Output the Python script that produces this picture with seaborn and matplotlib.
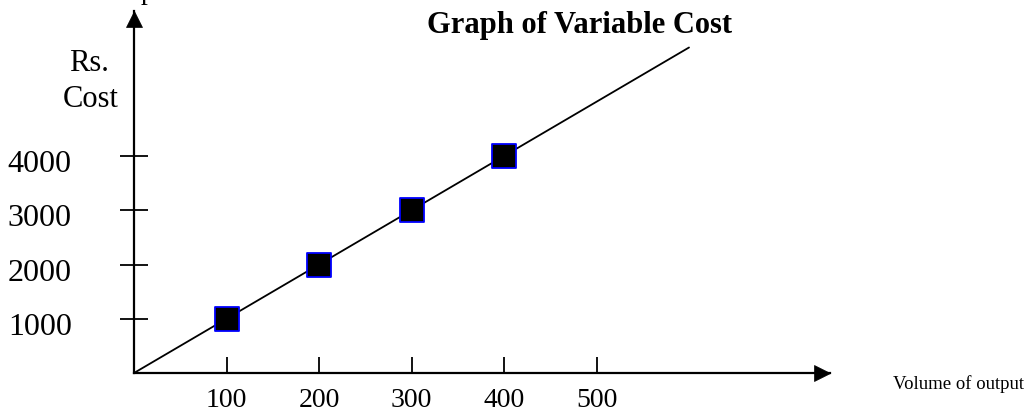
import matplotlib
matplotlib.use("Agg")
import matplotlib.pyplot as plt
import seaborn as sns
from matplotlib.transforms import ScaledTranslation

# ---- data ----
volume = [100, 200, 300, 400]
cost = [1000, 2000, 3000, 4000]
line_volume = [0, 600]
line_cost = [0, 6000]
x_ticks = [100, 200, 300, 400, 500]
x_tick_labels = ["100", "200", "300", "400", "500"]
y_ticks = [1000, 2000, 3000, 4000]
y_tick_labels = ["1000", "2000", "3000", "4000"]
title_text = "Graph of Variable Cost"
x_label_text = "Volume of output"
y_label_lines = ["Rs.", "Cost"]

sns.set_style("white")
plt.rcParams["font.family"] = ["Liberation Serif", "DejaVu Serif"]

W, H = 1028, 419
fig = plt.figure(figsize=(W / 100, H / 100), dpi=100)

# axes frame in pixels
x0, x1 = 134, 830
y_top, y_bot = 11, 373
ax = fig.add_axes([x0 / W, 1 - y_bot / H, (x1 - x0) / W, (y_bot - y_top) / H])
ax.set_facecolor("none")
px_per_x = 0.925
px_per_y = 0.05425
ax.set_xlim(0, (x1 - x0) / px_per_x)
ax.set_ylim(0, (y_bot - y_top) / px_per_y)

sns.lineplot(x=line_volume, y=line_cost, color="black", linewidth=1.3, ax=ax)
sns.scatterplot(x=volume, y=cost, marker="s", s=310, color="black",
                edgecolor="#0000ff", linewidth=1.3, ax=ax, zorder=3)

for s in ["top", "right"]:
    ax.spines[s].set_visible(False)
for s in ["left", "bottom"]:
    ax.spines[s].set_color("black")
    ax.spines[s].set_linewidth(1.6)

# arrow heads
ms = 11
ax.plot([1], [0], marker=">", color="black", ms=ms, mew=0.5, clip_on=False,
        transform=ax.transAxes + ScaledTranslation(-ms / 2 / 72, 0, fig.dpi_scale_trans))
ax.plot([0], [1], marker="^", color="black", ms=ms, mew=0.5, clip_on=False,
        transform=ax.transAxes + ScaledTranslation(0, -ms / 2 / 72, fig.dpi_scale_trans))

ax.set_xticks(x_ticks)
ax.set_xticklabels(x_tick_labels)
ax.set_yticks(y_ticks)
ax.set_yticklabels(y_tick_labels)
ax.tick_params(axis="x", bottom=True, direction="in", length=11.5, width=1.3,
               pad=11, labelsize=20, color="black", labelcolor="black")
ax.tick_params(axis="y", left=True, direction="inout", length=19.5, width=1.3,
               pad=35, labelsize=23, color="black", labelcolor="black")
ax.set_xlabel("")
ax.set_ylabel("")
ax.grid(False)

off = ScaledTranslation(0, -5 / 100, fig.dpi_scale_trans)
for lbl in ax.get_yticklabels():
    lbl.set_transform(lbl.get_transform() + off)

# texts
fig.text(580 / W, 1 - 25 / H, title_text, ha="center", va="center",
         fontsize=22, fontweight="bold", color="black")
fig.text(89 / W, 1 - 71 / H, y_label_lines[0], ha="center", va="baseline",
         fontsize=22, color="black")
fig.text(91 / W, 1 - 107 / H, y_label_lines[1], ha="center", va="baseline",
         fontsize=22, color="black")
fig.text(893 / W, 1 - 389 / H, x_label_text, ha="left", va="baseline",
         fontsize=13.5, color="black")
fig.text(141 / W, 1 + 1 / H, "p", ha="left", va="baseline", fontsize=20, color="black")

fig.savefig("out.png", dpi=100)
